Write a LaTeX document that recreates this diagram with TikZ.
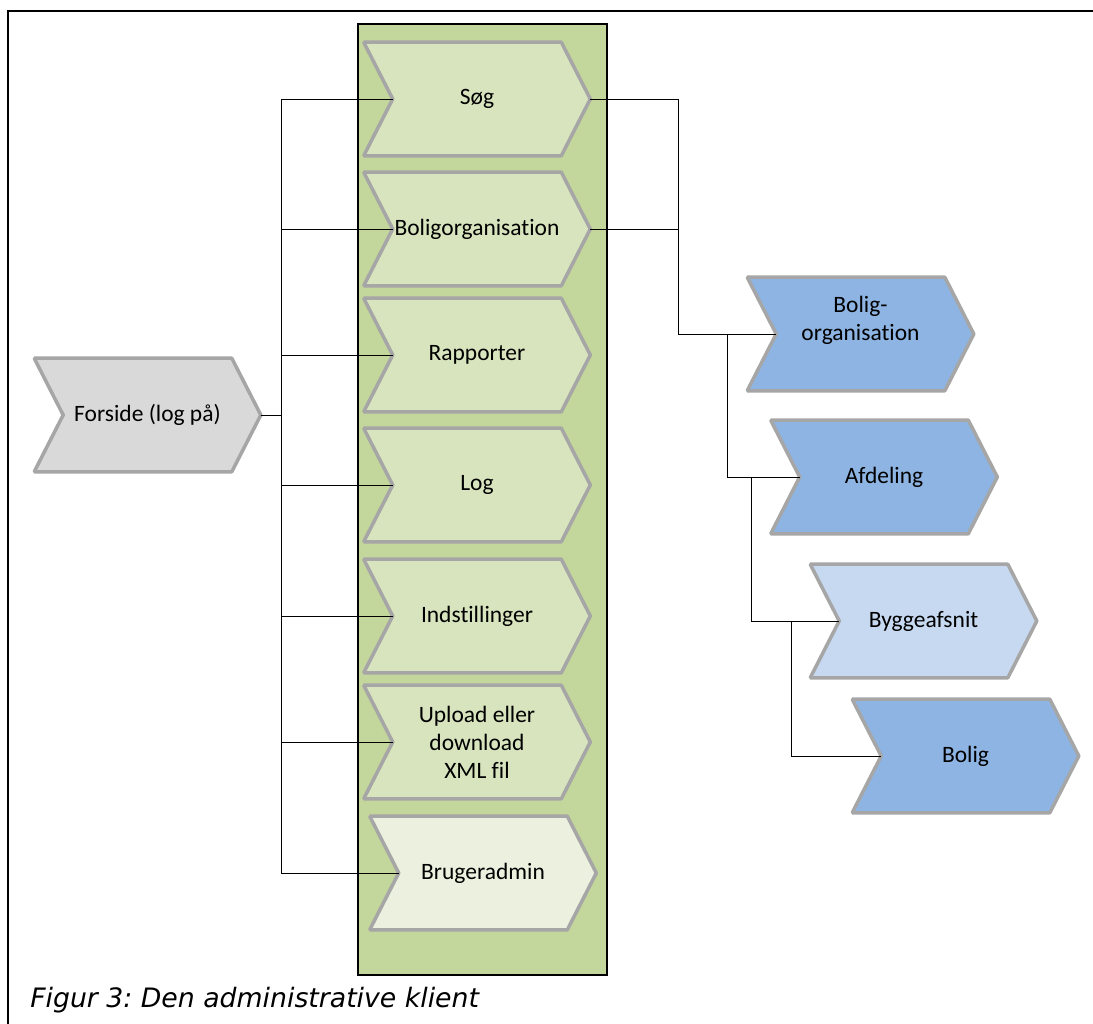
\documentclass[tikz,border=0pt]{standalone}
\usepackage{fontspec}
\setmainfont{Carlito}[Ligatures=NoCommon]
\newfontfamily\captionfont{DejaVu Sans}
\usepackage{xcolor}
\definecolor{green-500}{RGB}{195,214,155}
\definecolor{green-300}{RGB}{215,228,189}
\definecolor{green-100}{RGB}{235,241,222}
\definecolor{gray-300}{RGB}{217,217,217}
\definecolor{gray-500}{RGB}{166,166,166}
\definecolor{blue-500}{RGB}{141,180,226}
\definecolor{blue-200}{RGB}{198,217,241}
\usepackage{tikz}
\frenchspacing

\newlength\chevtip
\setlength\chevtip{0.725cm}

% Chevron: [text shift]{name}{centre}{fill}{text}
\newcommand{\chevnode}[5][0pt]{%
  \node[chev box] (#2) at (#3) {};
  \filldraw[chev line, fill=#4]
    (#2.north west) -- ([xshift=-\chevtip]#2.north east) -- (#2.east)
    -- ([xshift=-\chevtip]#2.south east) -- (#2.south west)
    -- ([xshift=\chevtip]#2.west) -- cycle;
  \coordinate (#2-in) at ([xshift=\chevtip]#2.west);
  \node[chev text] (#2-label) at ([yshift=#1]#2.center) {#5};
}

\begin{document}
\begin{tikzpicture}[
    x=0.025cm, y=-0.025cm,
    every node/.style={inner sep=0pt},
    chev box/.style={minimum width=5.65cm, minimum height=2.825cm},
    chev line/.style={draw=gray-500, line width=2.5pt, line join=bevel},
    chev text/.style={font=\fontsize{16.7}{20}\selectfont, align=center, text=black},
    wire/.style={draw=black, line width=0.7pt}
]
\clip (0,0) rectangle (1093,1024);
\fill[white] (0,0) rectangle (1093,1024);

% Figure frame
\draw[line width=1.4pt] (8,1060) -- (8,11) -- (1120,11);

% Menu panel
\draw[fill=green-500, line width=0.8pt] (358,24) rectangle (607,975);

% Front page
\chevnode{forside}{147.5,415}{gray-300}{Forside (log på)}

% Menu items
\chevnode{soeg}{477,99}{green-300}{Søg}
\chevnode{bolorg}{477,229}{green-300}{Boligorganisation}
\chevnode{rapp}{477,355}{green-300}{Rapporter}
\chevnode{log}{477,485}{green-300}{Log}
\chevnode{indst}{477,616}{green-300}{Indstillinger}
\chevnode{upload}{477,742}{green-300}{Upload eller\\download\\XML fil}
\chevnode{bruger}{483,873}{green-100}{Brugeradmin}

% Hierarchy
\chevnode[0.35cm]{borg}{860.5,334}{blue-500}{Bolig-\\organisation}
\chevnode{afd}{884,477}{blue-500}{Afdeling}
\chevnode{bygge}{923.5,621}{blue-200}{Byggeafsnit}
\chevnode{bolig}{965.5,756}{blue-500}{Bolig}

% Connectors, left
\coordinate (lbus) at (281,415);
\foreach \n in {soeg,bolorg,rapp,log,indst,upload,bruger}
  \draw[wire] (forside.east) -- (lbus) |- (\n-in);

% Connectors, right
\coordinate (rbus) at (678,334);
\draw[wire] (soeg.east) -| (rbus) -- (borg-in);
\draw[wire] (bolorg.east) -| (rbus);
\coordinate (j1) at (727,334);
\draw[wire] (j1) |- (afd-in);
\coordinate (j2) at (751,477);
\draw[wire] (j2) |- (bygge-in);
\coordinate (j3) at (791,621);
\draw[wire] (j3) |- (bolig-in);

% Caption
\node[anchor=base west, font=\captionfont\itshape\fontsize{19}{23}\selectfont] (caption) at (30,1007) {Figur 3: Den administrative klient};

\end{tikzpicture}
\end{document}
